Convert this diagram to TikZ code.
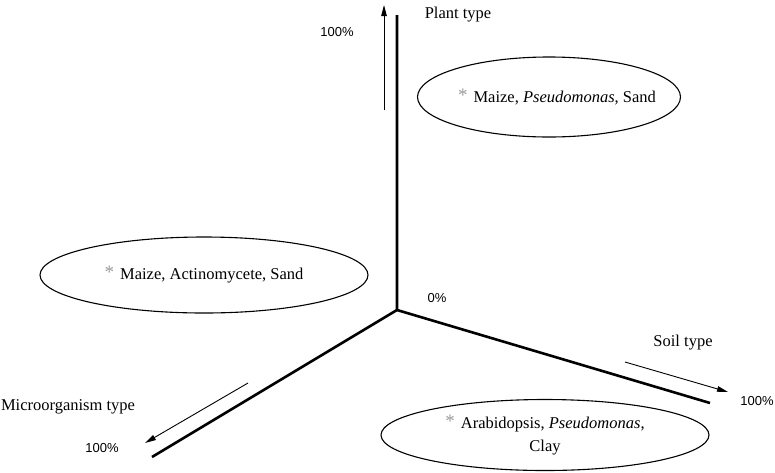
\documentclass[tikz,border=0pt]{standalone}
\usepackage{fontspec}
\setmainfont{Liberation Serif}
\newfontfamily\pctfont{Liberation Sans}
\usetikzlibrary{
  positioning,
  arrows.meta,
  shapes.geometric
}
\newcommand{\grpmark}{{\color{gray!80}\fontsize{19}{19}\selectfont\raisebox{1pt}{*}}\hspace{6pt}}

\begin{document}
\begin{tikzpicture}[
    x=1pt, y=-1pt,
    >={Triangle[length=11pt,width=5.5pt]},
    every node/.style={font=\fontsize{16.5}{19}\selectfont},
    axisline/.style={line width=2.6pt},
    dirarrow/.style={->, line width=0.9pt},
    groupbox/.style={draw, ellipse, line width=1.1pt, inner sep=0pt, align=center},
    pct/.style={font=\pctfont\fontsize{13}{15}\selectfont}
]
\useasboundingbox (0,0) rectangle (775,472);

% ========== 坐标轴 ==========
\coordinate (O) at (397,310);
\coordinate (plantEnd) at (397,15);
\coordinate (soilEnd) at (710,403);
\coordinate (microEnd) at (152,457);
\draw[axisline] (plantEnd) -- (O) -- (soilEnd);
\draw[axisline] (O) -- (microEnd);

% ========== 方向箭头 ==========
\coordinate (plantFrom) at (384,110);
\coordinate (plantTo) at (384,5);
\coordinate (soilFrom) at (625,362);
\coordinate (soilTo) at (728,392);
\coordinate (microFrom) at (248,383);
\coordinate (microTo) at (145,443);
\draw[dirarrow] (plantFrom) -- (plantTo);
\draw[dirarrow] (soilFrom) -- (soilTo);
\draw[dirarrow] (microFrom) -- (microTo);

% ========== 轴标签 ==========
\node (plantLbl) at (458,15) {Plant type};
\node (soilLbl) at (683,343) {Soil type};
\node (microLbl) at (68,407) {Microorganism type};
\node[pct] (zeroPct) at (437,298) {0\%};
\node[pct] (plantPct) at (337,32) {100\%};
\node[pct] (soilPct) at (757,401) {100\%};
\node[pct] (microPct) at (102,448) {100\%};

% ========== 组合 ==========
\node[groupbox, minimum width=263pt, minimum height=80pt] (maizePseudoBox) at (549,97) {};
\node (maizePseudo) at ([xshift=8pt]maizePseudoBox.center)
    {\grpmark Maize, \textit{Pseudomonas}, Sand};
\node[groupbox, minimum width=328pt, minimum height=76pt] (maizeActino) at (204,275)
    {\grpmark Maize, Actinomycete, Sand};
\node[groupbox, minimum width=328pt, minimum height=71pt,
      font=\fontsize{16.5}{23}\selectfont] (arabPseudo) at (545,435)
    {\grpmark Arabidopsis, \textit{Pseudomonas},\\ Clay};

\end{tikzpicture}
\end{document}
